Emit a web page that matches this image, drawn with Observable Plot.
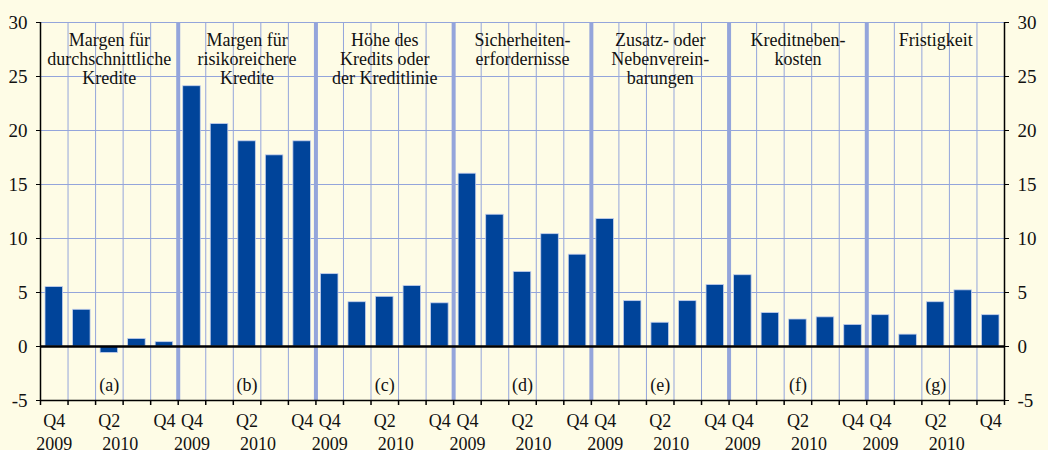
<!DOCTYPE html>
<html>
<head>
<meta charset="utf-8">
<script src="https://cdn.jsdelivr.net/npm/d3@7"></script>
<script src="https://cdn.jsdelivr.net/npm/@observablehq/plot@0.6"></script>
<style>
  html, body { margin: 0; padding: 0; background: #fefce6; }
  #chart svg { display: block; }
  #chart svg, #chart svg text { font-family: "Liberation Serif", "Times New Roman", serif !important; }
</style>
</head>
<body>
<div id="chart"></div>
<script>
const groupKeys = ["(a)", "(b)", "(c)", "(d)", "(e)", "(f)", "(g)"];
const groupTitles = [
  "Margen für\ndurchschnittliche\nKredite",
  "Margen für\nrisikoreichere\nKredite",
  "Höhe des\nKredits oder\nder Kreditlinie",
  "Sicherheiten-\nerfordernisse",
  "Zusatz- oder\nNebenverein-\nbarungen",
  "Kreditneben-\nkosten",
  "Fristigkeit"
];
const quarters = ["Q4 2009", "Q1 2010", "Q2 2010", "Q3 2010", "Q4 2010"];
const quarterTickLabels = ["Q4", "", "Q2", "", "Q4"];
const yearTickLabels = ["2009", "", "2010", "", ""];
const valuesA = [5.5, 3.4, -0.6, 0.7, 0.4];
const valuesB = [24.1, 20.6, 19.0, 17.7, 19.0];
const valuesC = [6.7, 4.1, 4.6, 5.6, 4.0];
const valuesD = [16.0, 12.2, 6.9, 10.4, 8.5];
const valuesE = [11.8, 4.2, 2.2, 4.2, 5.7];
const valuesF = [6.6, 3.1, 2.5, 2.7, 2.0];
const valuesG = [2.9, 1.1, 4.1, 5.2, 2.9];
const yTicks = [-5, 0, 5, 10, 15, 20, 25, 30];

const seriesValues = [valuesA, valuesB, valuesC, valuesD, valuesE, valuesF, valuesG];
const rows = [];
seriesValues.forEach((vals, g) => vals.forEach((v, q) => rows.push({
  group: g, q, i: g * quarters.length + q, value: v,
  qLabel: quarterTickLabels[q], yLabel: yearTickLabels[q]
})));
const nSlots = rows.length;
const groups = groupTitles.map((t, g) => ({g, title: t, key: groupKeys[g], center: g * 5 + 2.5}));

const gridColor = "#94a5db";
const barColor = "#00449a";
const font = "Liberation Serif";

const chart = Plot.plot({
  width: 1048,
  height: 450,
  marginLeft: 40,
  marginRight: 44,
  marginTop: 22,
  marginBottom: 50,
  style: {background: "#fefce6", fontFamily: font, color: "#111"},
  x: {type: "linear", domain: [0, nSlots], axis: null},
  y: {domain: [-5, 30], axis: null},
  marks: [
    Plot.ruleY(yTicks, {stroke: gridColor, strokeWidth: 1}),
    Plot.ruleX(d3.range(0, nSlots + 1), {stroke: gridColor, strokeWidth: 1}),
    Plot.ruleX(d3.range(5, nSlots, 5), {stroke: gridColor, strokeWidth: 4}),
    Plot.rectY(rows, {
      x1: "i", x2: d => d.i + 1, y: "value",
      insetLeft: 5, insetRight: 5,
      fill: barColor, stroke: "#c3cfee", strokeWidth: 0.8
    }),
    Plot.ruleY([0], {stroke: "#000", strokeWidth: 2.5}),
    Plot.ruleY([-5], {stroke: "#000", strokeWidth: 1.5}),
    Plot.ruleX([0, nSlots], {stroke: "#000", strokeWidth: 1.5}),
    Plot.axisY({anchor: "left", label: null, ticks: yTicks, tickSize: 4, tickPadding: 9, fontSize: 19, fontFamily: font, tickFormat: d => String(d), stroke: "#000"}),
    Plot.axisY({anchor: "right", label: null, ticks: yTicks, tickSize: 4, tickPadding: 9, fontSize: 19, fontFamily: font, tickFormat: d => String(d), stroke: "#000"}),
    Plot.axisX({label: null, ticks: d3.range(0, nSlots + 1), tickSize: 5, tickFormat: () => "", stroke: "#000", strokeWidth: 1.5}),
    Plot.text(groups, {x: "center", text: "title", frameAnchor: "top", lineAnchor: "top", dy: 10, fontSize: 18, fontFamily: font, lineHeight: 1.05, fill: "#111"}),
    Plot.text(groups, {x: "center", text: "key", frameAnchor: "bottom", lineAnchor: "middle", dy: -15, fontSize: 18, fontFamily: font, fill: "#111"}),
    Plot.text(rows.filter(d => d.qLabel), {x: d => d.i + 0.5, text: "qLabel", frameAnchor: "bottom", lineAnchor: "top", dy: 14, fontSize: 18, fontFamily: font, fill: "#111"}),
    Plot.text(rows.filter(d => d.yLabel && d.q === 0), {x: d => d.i + 0.5, text: "yLabel", frameAnchor: "bottom", lineAnchor: "top", dy: 37, fontSize: 18, fontFamily: font, fill: "#111"}),
    Plot.text(rows.filter(d => d.yLabel && d.q !== 0), {x: d => d.i + 0.5, text: "yLabel", frameAnchor: "bottom", lineAnchor: "top", dy: 37, dx: 11, fontSize: 18, fontFamily: font, fill: "#111"})
  ]
});
document.getElementById("chart").append(chart);
</script>
</body>
</html>
